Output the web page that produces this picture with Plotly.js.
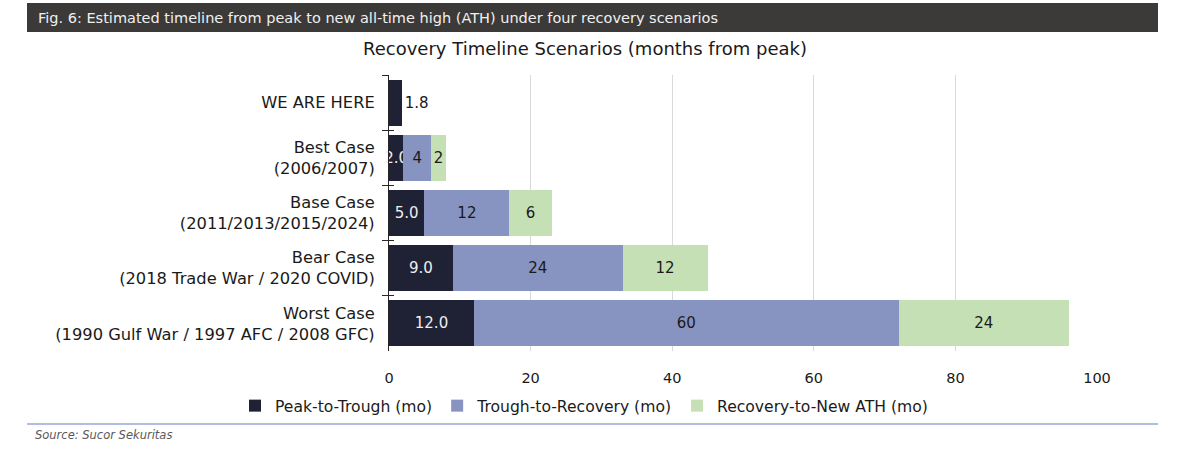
<!DOCTYPE html>
<html>
<head>
<meta charset="utf-8">
<script src="https://cdn.plot.ly/plotly-3.0.1.min.js"></script>
<style>
  html, body { margin: 0; padding: 0; background: #ffffff; }
  #chart { width: 1179px; height: 467px; }
</style>
</head>
<body>
<div id="chart"></div>
<script>
// ---- Data ----
const categories = [
  "WE ARE HERE",
  "Best Case<br>(2006/2007)",
  "Base Case<br>(2011/2013/2015/2024)",
  "Bear Case<br>(2018 Trade War / 2020 COVID)",
  "Worst Case<br>(1990 Gulf War / 1997 AFC / 2008 GFC)"
];
const peakToTrough = [1.8, 2.0, 5.0, 9.0, 12.0];
const troughToRecovery = [null, 4, 12, 24, 60];
const recoveryToATH = [null, 2, 6, 12, 24];
const seriesNames = ["Peak-to-Trough (mo)", "Trough-to-Recovery (mo)", "Recovery-to-New ATH (mo)"];
const xTicks = [0, 20, 40, 60, 80, 100];

const headerText = "Fig. 6: Estimated timeline from peak to new all-time high (ATH) under four recovery scenarios";
const chartTitle = "Recovery Timeline Scenarios (months from peak)";
const sourceText = "Source: Sucor Sekuritas";

// ---- Layout geometry ----
const W = 1179, H = 467;
const M = { l: 389, r: 82, t: 75, b: 116 };
const pw = W - M.l - M.r, ph = H - M.t - M.b;
const px = x => (x - M.l) / pw;          // pixel -> paper x
const py = y => (H - M.b - y) / ph;      // pixel -> paper y

const FONT = "DejaVu Sans, sans-serif";
const colDark = "#1f2235", colBlue = "#8793c0", colGreen = "#c5e0b4";
const barTextSize = 15;

const traces = [
  {
    type: "bar", orientation: "h", name: seriesNames[0],
    y: categories, x: peakToTrough,
    marker: { color: colDark },
    texttemplate: "%{x:.1f}",
    textposition: peakToTrough.map((v, i) => i === 0 ? "outside" : "inside"),
    insidetextanchor: "middle",
    textangle: 0,
    constraintext: "none",
    insidetextfont: { color: "#eeeeee", size: barTextSize, family: FONT },
    outsidetextfont: { color: "#1a1a1a", size: barTextSize, family: FONT },
    cliponaxis: false,
    hoverinfo: "x+name"
  },
  {
    type: "bar", orientation: "h", name: seriesNames[1],
    y: categories, x: troughToRecovery,
    marker: { color: colBlue },
    texttemplate: "%{x}",
    textposition: "inside",
    insidetextanchor: "middle",
    textangle: 0,
    constraintext: "none",
    insidetextfont: { color: "#1a1a1a", size: barTextSize, family: FONT },
    hoverinfo: "x+name"
  },
  {
    type: "bar", orientation: "h", name: seriesNames[2],
    y: categories, x: recoveryToATH,
    marker: { color: colGreen },
    texttemplate: "%{x}",
    textposition: "inside",
    insidetextanchor: "middle",
    textangle: 0,
    constraintext: "none",
    insidetextfont: { color: "#1a1a1a", size: barTextSize, family: FONT },
    hoverinfo: "x+name"
  },
  // invisible helper so the inner half of the crossing y ticks can be drawn
  {
    type: "bar", orientation: "h", yaxis: "y2", showlegend: false,
    y: categories, x: categories.map(() => 0),
    marker: { color: "rgba(0,0,0,0)" }, hoverinfo: "skip"
  }
];

const yCommon = {
  type: "category",
  categoryorder: "array", categoryarray: categories,
  range: [4.5, -0.5],
  showgrid: false, zeroline: false,
  tickson: "boundaries", tickcolor: "#262626", tickwidth: 1,
  fixedrange: true
};

const layout = {
  width: W, height: H,
  margin: M,
  paper_bgcolor: "#ffffff",
  plot_bgcolor: "#ffffff",
  font: { family: FONT, color: "#1a1a1a", size: 14 },
  barmode: "stack",
  bargap: 0.17,
  showlegend: true,
  title: {
    text: chartTitle,
    font: { family: FONT, size: 18, color: "#1a1a1a" },
    xref: "container", x: 585 / W, xanchor: "center",
    yref: "container", y: 1 - 49 / H, yanchor: "middle"
  },
  xaxis: {
    range: [0, 100],
    tickvals: xTicks,
    ticktext: xTicks.map(String),
    showgrid: true, gridcolor: "#d9d9d9", gridwidth: 1,
    zeroline: false, showline: false,
    ticks: "", ticklabelstandoff: 16,
    tickfont: { family: FONT, size: 14.5, color: "#1a1a1a" },
    fixedrange: true
  },
  yaxis: Object.assign({}, yCommon, {
    showline: true, linecolor: "#262626", linewidth: 1,
    ticks: "outside", ticklen: 6,
    ticklabelstandoff: 10,
    tickfont: { family: FONT, size: 16.3, color: "#1a1a1a" }
  }),
  yaxis2: Object.assign({}, yCommon, {
    overlaying: "y", anchor: "x", side: "left",
    showline: false, ticks: "inside", ticklen: 5,
    showticklabels: false
  }),
  legend: {
    orientation: "h",
    x: px(584), xanchor: "center",
    y: py(406), yanchor: "middle",
    font: { family: FONT, size: 15.6, color: "#1a1a1a" },
    traceorder: "normal",
    itemwidth: 30,
    bgcolor: "rgba(0,0,0,0)"
  },
  shapes: [
    { type: "rect", xref: "paper", yref: "paper",
      x0: px(27), x1: px(1158), y0: py(32), y1: py(3),
      fillcolor: "#3b3a39", line: { width: 0 }, layer: "below" },
    { type: "line", xref: "paper", yref: "paper",
      x0: px(27), x1: px(1158), y0: py(424), y1: py(424),
      line: { color: "#aebfe0", width: 2 } }
  ],
  annotations: [
    { text: headerText, xref: "paper", yref: "paper",
      x: px(36), y: py(18), xanchor: "left", yanchor: "middle",
      showarrow: false, font: { family: FONT, size: 14.5, color: "#f0f0f0" } },
    { text: "<i>" + sourceText + "</i>", xref: "paper", yref: "paper",
      x: px(33), y: py(435), xanchor: "left", yanchor: "middle",
      showarrow: false, font: { family: FONT, size: 11.5, color: "#595959" } }
  ]
};

Plotly.newPlot("chart", traces, layout, { displayModeBar: false, staticPlot: true });
</script>
</body>
</html>
